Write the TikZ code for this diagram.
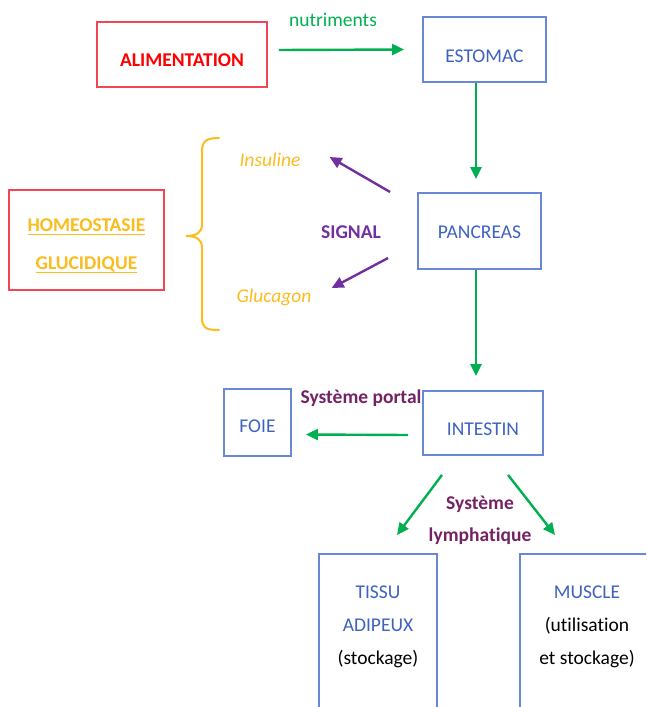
\documentclass[tikz,border=0pt]{standalone}
\usepackage{fontspec}
\setmainfont[Ligatures=NoCommon]{Carlito}
\usepackage{xcolor}
\usetikzlibrary{arrows.meta,positioning}

\definecolor{rouge}{RGB}{255,0,0}
\definecolor{rougecadre}{RGB}{240,70,85}
\definecolor{bleu}{RGB}{62,98,192}
\definecolor{bleucadre}{RGB}{105,135,215}
\definecolor{vert}{RGB}{0,176,80}
\definecolor{jaune}{RGB}{250,188,30}
\definecolor{violet}{RGB}{112,48,160}
\definecolor{prune}{RGB}{115,35,100}

\newcommand{\souligne}[1]{\setbox0\hbox{#1}\rlap{\color{jaune}\rule[-3.5pt]{\wd0}{1.6pt}}\box0}

\begin{document}
\begin{tikzpicture}[x=1pt,y=-1pt,
    texte/.style={font=\fontsize{19.5}{33}\selectfont,inner sep=0pt,align=center},
    cadrerouge/.style={texte,draw=rougecadre,line width=1.8pt},
    cadrebleu/.style={texte,draw=bleucadre,line width=1.8pt,text=bleu},
    plusbas/.style={text height=#1},
    flux/.style={draw=vert,line width=2.4pt,-{Triangle[length=12pt,width=11pt]}},
    signal/.style={draw=violet,line width=2.4pt,-{Triangle[length=12pt,width=11pt]}},
    accolade/.style={draw=jaune,line width=2pt,line cap=round}]
    \useasboundingbox (0,0) rectangle (646,707);
    \clip (0,0) rectangle (646,707);

    \node (alim) at (182,54.5) [cadrerouge,minimum width=170,minimum height=65,text=rouge,plusbas=24pt] {\bfseries ALIMENTATION};
    \node (estomac) at (484.5,49.5) [cadrebleu,minimum width=123,minimum height=65,plusbas=26pt] {ESTOMAC};
    \node (homeo) at (86.5,240) [cadrerouge,minimum width=155,minimum height=100] {};
    \node (pancreas) at (479.5,231) [cadrebleu,minimum width=123,minimum height=76,plusbas=16pt] {PANCREAS};
    \node (foie) at (257.5,422.5) [cadrebleu,minimum width=67,minimum height=67,plusbas=21pt] {FOIE};
    \node (intestin) at (483,423) [cadrebleu,minimum width=120,minimum height=64,plusbas=26pt] {INTESTIN};
    \node (tissu) at (378,553) [cadrebleu,anchor=north,minimum width=118,minimum height=220] {};
    \node (muscle) at (586,553) [cadrebleu,anchor=north,minimum width=132,minimum height=220] {};

    \node (homeotxt) at ([yshift=-6pt]homeo.center) [texte,text=jaune,font=\fontsize{19.5}{38}\selectfont\bfseries] {\souligne{HOMEOSTASIE}\\\souligne{GLUCIDIQUE}};
    \node (tissutxt) at ([yshift=-74pt]tissu.north) [texte] {\textcolor{bleu}{TISSU}\\\textcolor{bleu}{ADIPEUX}\\(stockage)};
    \node (muscletxt) at ([xshift=1pt,yshift=-74pt]muscle.north) [texte] {\textcolor{bleu}{MUSCLE}\\(utilisation\\et stockage)};

    \node (nutriments) at (333,20) [texte,text=vert] {nutriments};
    \node (insuline) at (270,160) [texte,text=jaune] {\itshape Insuline};
    \node (glucagon) at (274,297) [texte,text=jaune] {\itshape Glucagon};
    \node (signaltxt) at (351,232) [texte,text=violet] {\bfseries SIGNAL};
    \node (portal) at (361,398) [texte,text=prune] {\bfseries Système portal};
    \node (lymph) at (480,520) [texte,text=prune,font=\fontsize{19.5}{32}\selectfont\bfseries] {Système\\lymphatique};

    \draw[flux] ([xshift=11pt,yshift=4.5pt]alim.east) -- ([xshift=-18pt]estomac.west);
    \draw[flux] ([xshift=-8.5pt]estomac.south) -- ([xshift=-3.5pt,yshift=13pt]pancreas.north);
    \draw[flux] ([xshift=-3.5pt]pancreas.south) -- ([xshift=-7pt,yshift=14pt]intestin.north);
    \draw[flux] ([xshift=-14pt,yshift=-12pt]intestin.west) -- ([xshift=14pt,yshift=-12pt]foie.east);
    \draw[flux] ([xshift=-41pt,yshift=-19pt]intestin.south) -- ([xshift=19pt,yshift=18pt]tissu.north);
    \draw[flux] ([xshift=25pt,yshift=-19pt]intestin.south) -- ([xshift=-31pt,yshift=18pt]muscle.north);

    \draw[signal] ([xshift=-27pt,yshift=39pt]pancreas.west) -- ([xshift=29pt,yshift=3pt]insuline.east);
    \draw[signal] ([xshift=-29pt,yshift=-27pt]pancreas.west) -- ([xshift=20pt,yshift=9pt]glucagon.east);

    % accolade
    \draw[accolade] (219,138) .. controls (206,138) and (202,141) .. (202,152) -- (202,224) .. controls (202,233) and (196,236) .. (186,236) .. controls (196,236) and (202,239) .. (202,248) -- (202,318) .. controls (202,328) and (206,330) .. (219,330);
\end{tikzpicture}
\end{document}
